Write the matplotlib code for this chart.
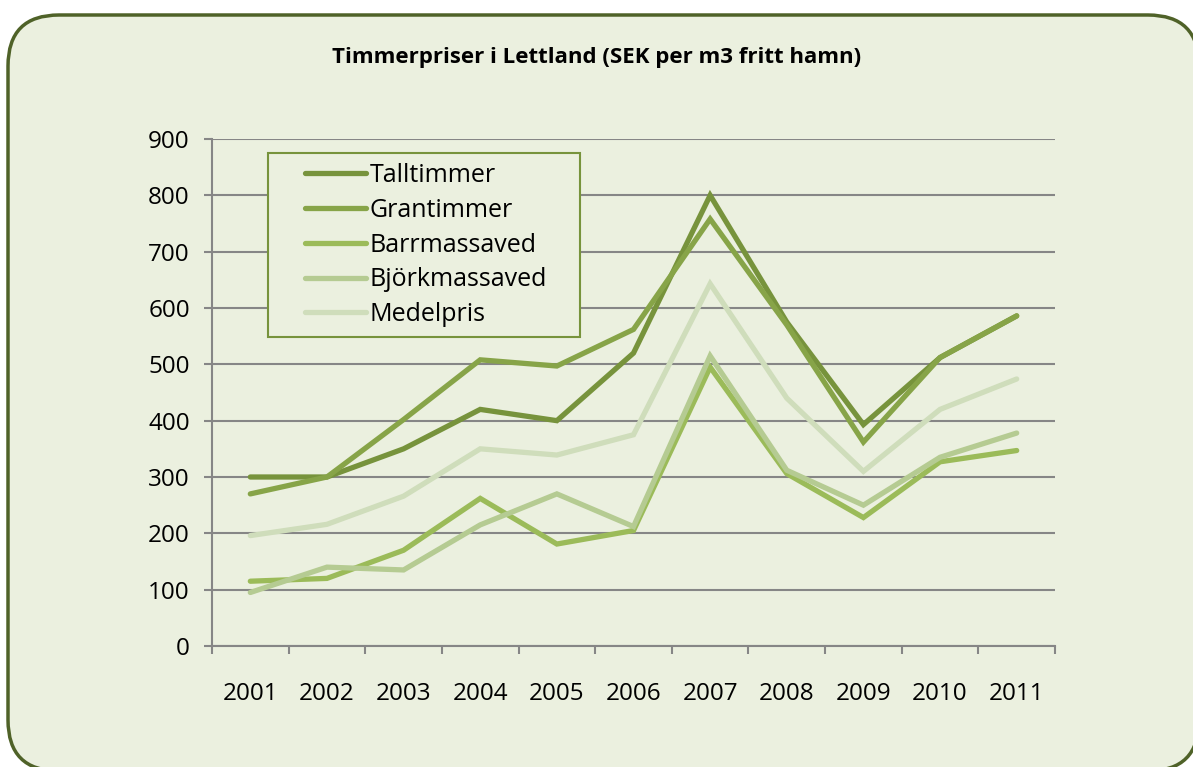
import matplotlib
matplotlib.use("Agg")
import matplotlib.pyplot as plt
from matplotlib.patches import FancyBboxPatch
from matplotlib.transforms import Affine2D
from matplotlib.legend_handler import HandlerLine2D
from matplotlib.lines import Line2D

years = ["2001", "2002", "2003", "2004", "2005", "2006", "2007", "2008", "2009", "2010", "2011"]
talltimmer = [300, 300, 350, 420, 400, 520, 800, 575, 393, 512, 586]
grantimmer = [270, 300, 402, 508, 497, 562, 758, 570, 362, 512, 586]
barrmassaved = [115, 120, 170, 262, 181, 205, 495, 306, 228, 327, 347]
bjorkmassaved = [95, 140, 135, 215, 270, 212, 515, 312, 250, 335, 378]
medelpris = [196, 216, 266, 350, 339, 375, 643, 440, 310, 420, 474]

series = [
    ("Talltimmer", talltimmer, "#77933C"),
    ("Grantimmer", grantimmer, "#87A448"),
    ("Barrmassaved", barrmassaved, "#9BBB59"),
    ("Björkmassaved", bjorkmassaved, "#B5CB92"),
    ("Medelpris", medelpris, "#CFDDBB"),
]

plt.rcParams['font.family'] = ['Open Sans', 'DejaVu Sans']
W, H = 1193, 767
fig = plt.figure(figsize=(W / 100, H / 100), dpi=100, facecolor="white")

px = Affine2D().scale(1 / W, 1 / H) + fig.transFigure
bg = FancyBboxPatch((8, -4), 1191, 756, boxstyle="round,pad=0,rounding_size=51",
                    transform=px, facecolor="#EBF0DF", edgecolor="#4F6228", linewidth=2.5,
                    zorder=-10)
fig.patches.append(bg)

ax = fig.add_axes([212 / W, 121 / H, 843 / W, 507 / H])
ax.set_facecolor("none")
ax.set_zorder(5)

x = list(range(1, len(years) + 1))
for name, vals, col in series:
    ax.plot(x, vals, color=col, linewidth=3.8, label=name, solid_capstyle="round", solid_joinstyle="miter")

ax.set_xlim(0.5, len(years) + 0.5)
ax.set_ylim(0, 900)
ax.set_yticks(range(0, 1000, 100))
ax.set_xticks(x)
ax.set_xticklabels(years)
ax.set_xticks([i + 0.5 for i in range(0, len(years) + 1)], minor=True)
ax.tick_params(axis="x", which="major", length=0, pad=26, labelsize=17.5)
ax.tick_params(axis="x", which="minor", length=6, width=1.5, color="#868686", direction="out")
ax.tick_params(axis="y", length=6, width=1.5, color="#868686", labelsize=17.5, pad=10)
ax.grid(axis="y", color="#868686", linewidth=1.5)
ax.set_axisbelow(True)
for s in ["top", "right"]:
    ax.spines[s].set_visible(False)
for s in ["left", "bottom"]:
    ax.spines[s].set_color("#868686")
    ax.spines[s].set_linewidth(1.5)

lx0 = (268 - 212) / 843
lw = (580 - 268) / 843
ly0 = (646 - 330) / 507
lh = (330 - 153) / 507
leg = ax.legend(loc="upper left", bbox_to_anchor=(lx0, ly0, lw, lh), mode="expand",
                fontsize=18, frameon=True, fancybox=False, handlelength=4.56, numpoints=2,
                handler_map={Line2D: HandlerLine2D(marker_pad=1.06)},
                handletextpad=-0.9, labelspacing=0.39, borderpad=0.4, borderaxespad=0)
leg.get_frame().set_facecolor("#EBF0DF")
leg.get_frame().set_edgecolor("#77933C")
leg.get_frame().set_linewidth(1.5)
leg.get_frame().set_alpha(1)

fig.text(0.5, 1 - 57 / H, "Timmerpriser i Lettland (SEK per m3 fritt hamn)", ha="center", va="center",
         fontsize=16, fontweight="bold")

fig.savefig("out.png", dpi=100, facecolor="white")
